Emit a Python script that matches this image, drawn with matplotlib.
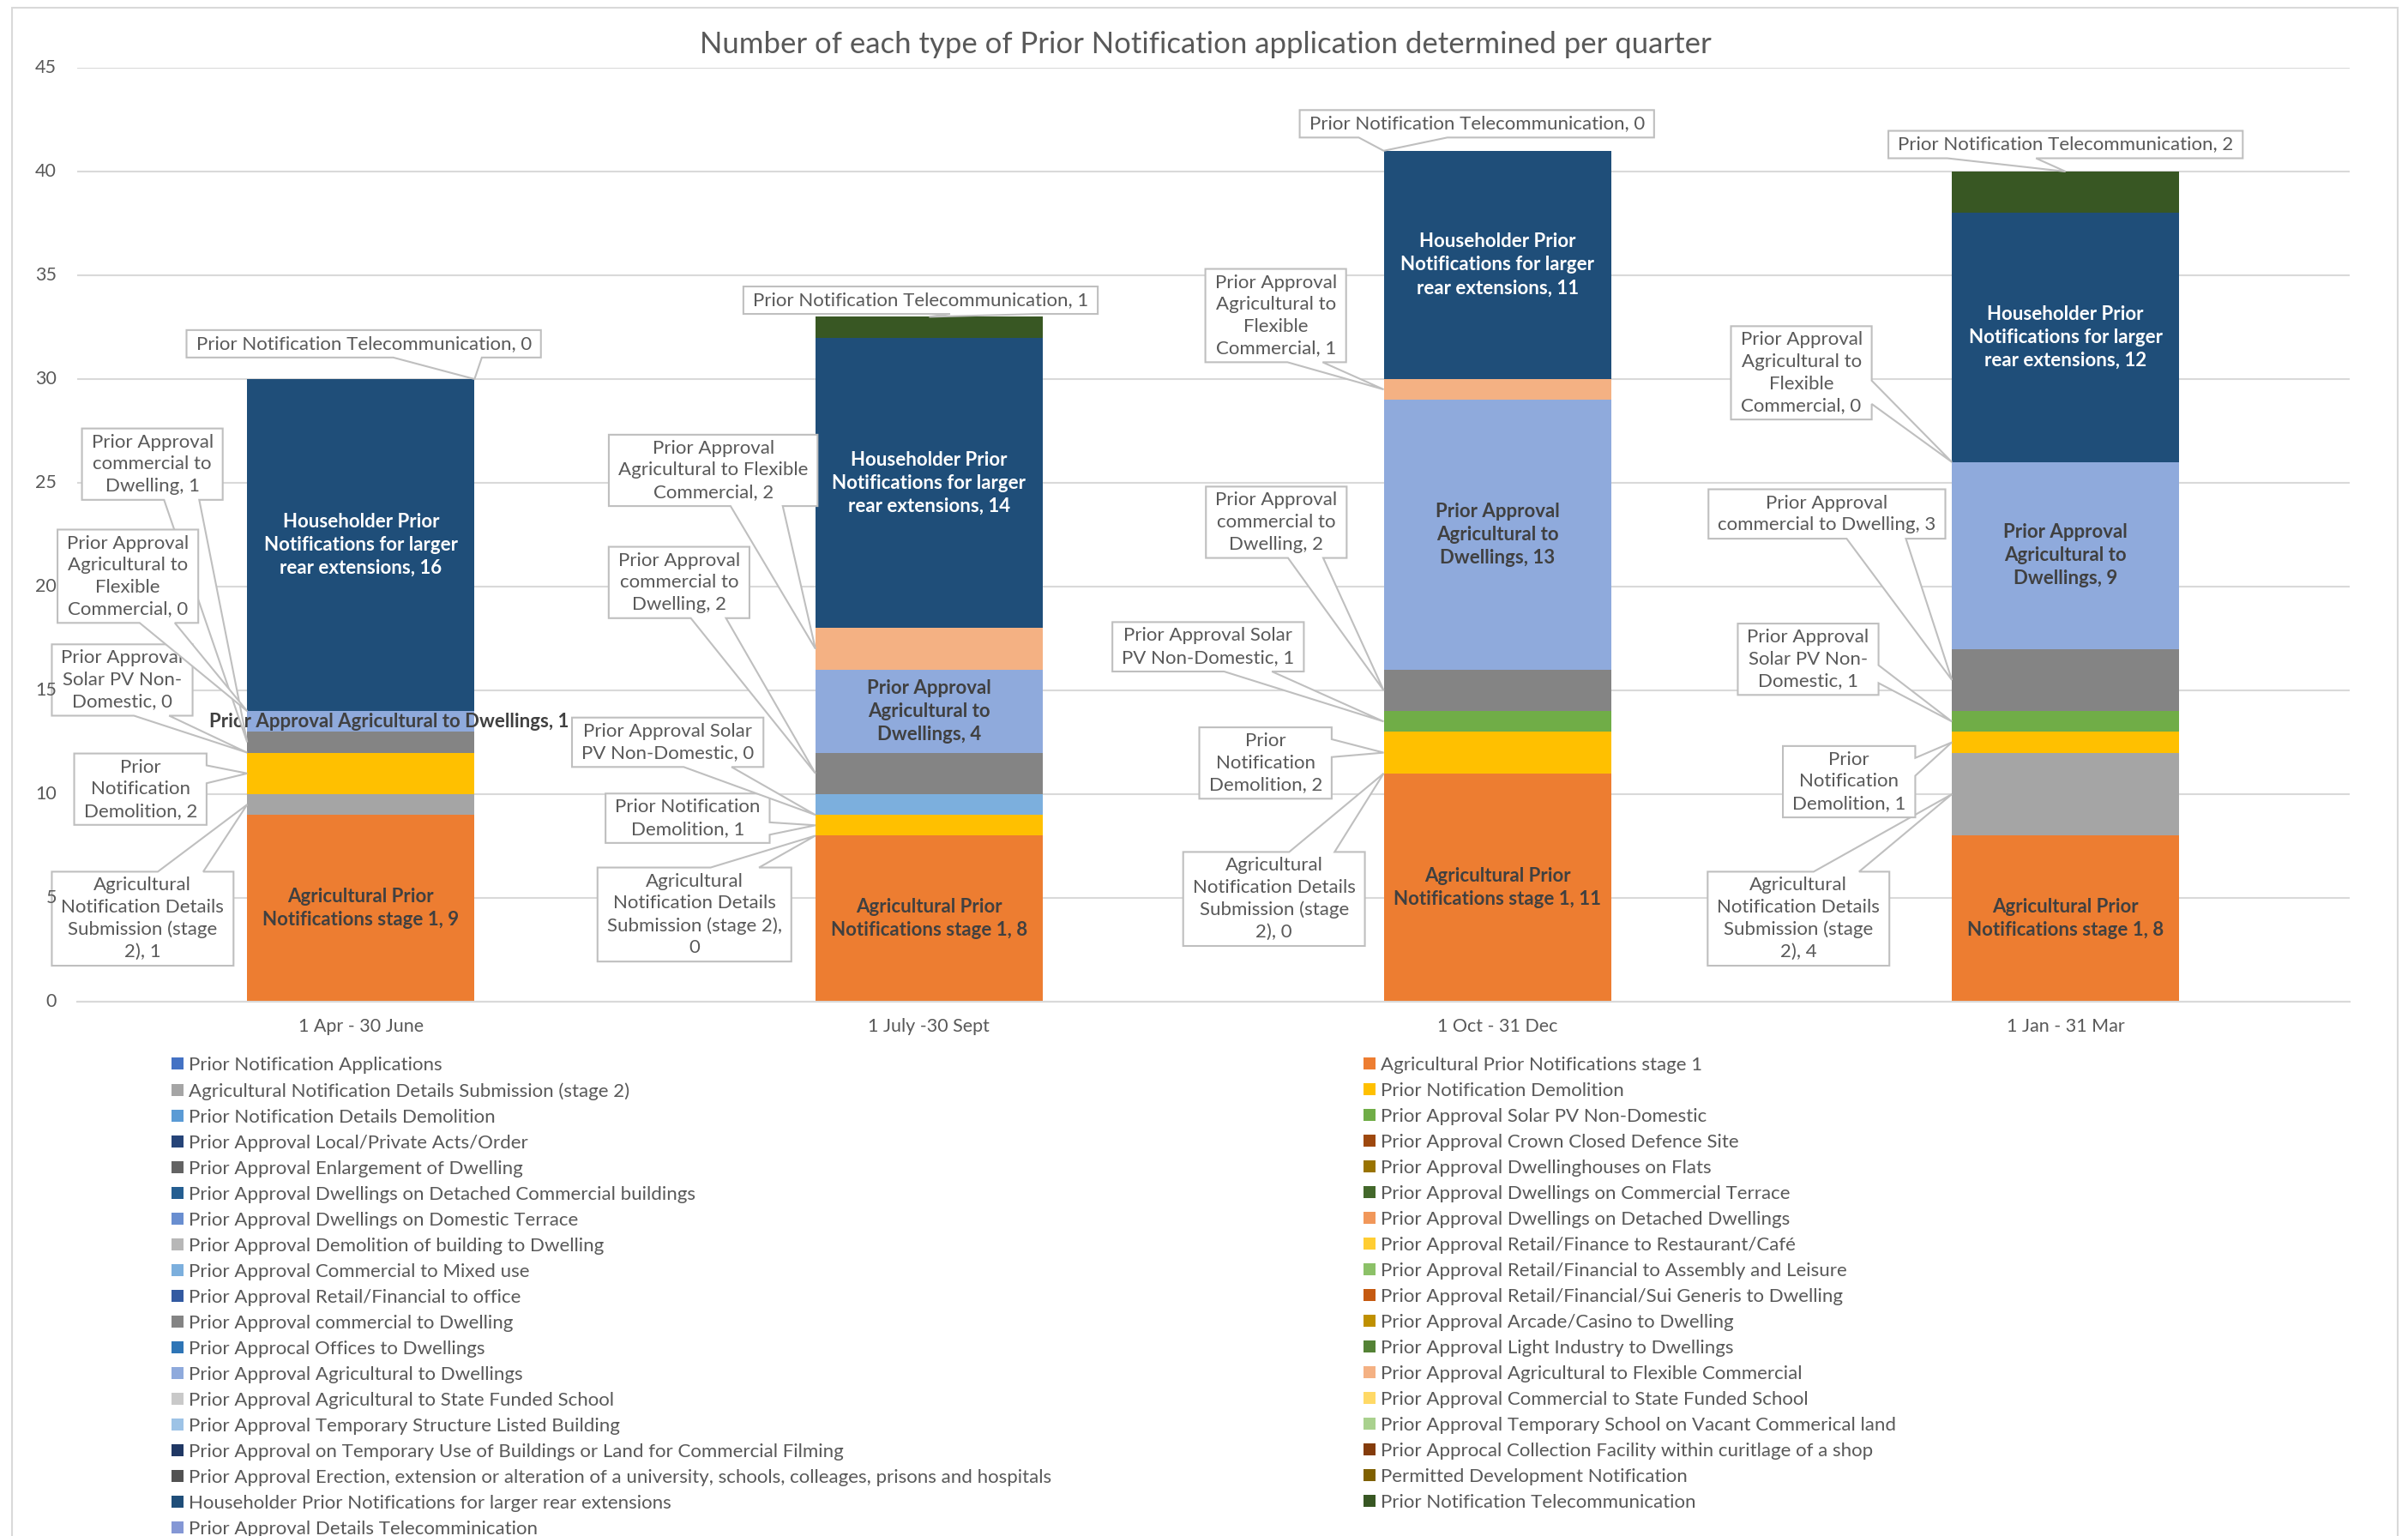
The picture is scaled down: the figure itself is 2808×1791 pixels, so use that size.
import matplotlib
matplotlib.use("Agg")
import matplotlib.pyplot as plt
from matplotlib.patches import Patch, Polygon, Rectangle

plt.rcParams['font.family'] = ['Lato', 'DejaVu Sans']

title = "Number of each type of Prior Notification application determined per quarter"
quarters = ["1 Apr - 30 June", "1 July -30 Sept", "1 Oct - 31 Dec", "1 Jan - 31 Mar"]

# series in the workbook order (stacking order, bottom to top)
series = [
    "Prior Notification Applications",
    "Agricultural Prior Notifications stage 1",
    "Agricultural Notification Details Submission (stage 2)",
    "Prior Notification Demolition",
    "Prior Notification Details Demolition",
    "Prior Approval Solar PV Non-Domestic",
    "Prior Approval Local/Private Acts/Order",
    "Prior Approval Crown Closed Defence Site",
    "Prior Approval Enlargement of Dwelling",
    "Prior Approval Dwellinghouses on Flats",
    "Prior Approval Dwellings on Detached Commercial buildings",
    "Prior Approval Dwellings on Commercial Terrace",
    "Prior Approval Dwellings on Domestic Terrace",
    "Prior Approval Dwellings on Detached Dwellings",
    "Prior Approval Demolition of building to Dwelling",
    "Prior Approval Retail/Finance to Restaurant/Café",
    "Prior Approval Commercial to Mixed use",
    "Prior Approval Retail/Financial to Assembly and Leisure",
    "Prior Approval Retail/Financial to office",
    "Prior Approval Retail/Financial/Sui Generis to Dwelling",
    "Prior Approval commercial to Dwelling",
    "Prior Approval Arcade/Casino to Dwelling",
    "Prior Approcal Offices to Dwellings",
    "Prior Approval Light Industry to Dwellings",
    "Prior Approval Agricultural to Dwellings",
    "Prior Approval Agricultural to Flexible Commercial",
    "Prior Approval Agricultural to State Funded School",
    "Prior Approval Commercial to State Funded School",
    "Prior Approval Temporary Structure Listed Building",
    "Prior Approval Temporary School on Vacant Commerical land",
    "Prior Approval on Temporary Use of Buildings or Land for Commercial Filming",
    "Prior Approcal Collection Facility within curitlage of a shop",
    "Prior Approval Erection, extension or alteration of a university, schools, colleages, prisons and hospitals",
    "Permitted Development Notification",
    "Householder Prior Notifications for larger rear extensions",
    "Prior Notification Telecommunication",
    "Prior Approval Details Telecomminication",
]

colors = [
    "#4472C4", "#ED7D31", "#A5A5A5", "#FFC000", "#5B9BD5", "#70AD47",
    "#264478", "#9E480E", "#636363", "#997300", "#255E91", "#43682B",
    "#698ED0", "#F1975A", "#B7B7B7", "#FFCD33", "#7CAFDD", "#8CC168",
    "#335AA1", "#C55A11", "#848484", "#BF9000", "#2E75B6", "#548235",
    "#8FAADC", "#F4B183", "#C9C9C9", "#FFD966", "#9DC3E6", "#A9D18E",
    "#203864", "#843C0C", "#525252", "#7F6000", "#1F4E79", "#385723",
    "#8497D5",
]

# counts per quarter; every other series is zero in all quarters
ag_stage1 = [9, 8, 11, 8]
ag_stage2 = [1, 0, 0, 4]
pn_demolition = [2, 1, 2, 1]
solar_pv = [0, 0, 1, 1]
commercial_mixed = [0, 1, 0, 0]
commercial_dwelling = [1, 2, 2, 3]
ag_dwellings = [1, 4, 13, 9]
ag_flexible = [0, 2, 1, 0]
householder = [16, 14, 11, 12]
telecom = [0, 1, 0, 2]

values = {name: [0, 0, 0, 0] for name in series}
values["Agricultural Prior Notifications stage 1"] = ag_stage1
values["Agricultural Notification Details Submission (stage 2)"] = ag_stage2
values["Prior Notification Demolition"] = pn_demolition
values["Prior Approval Solar PV Non-Domestic"] = solar_pv
values["Prior Approval Commercial to Mixed use"] = commercial_mixed
values["Prior Approval commercial to Dwelling"] = commercial_dwelling
values["Prior Approval Agricultural to Dwellings"] = ag_dwellings
values["Prior Approval Agricultural to Flexible Commercial"] = ag_flexible
values["Householder Prior Notifications for larger rear extensions"] = householder
values["Prior Notification Telecommunication"] = telecom

TEL = "Prior Notification Telecommunication"
COM = "Prior Approval commercial to Dwelling"
FLX = "Prior Approval Agricultural to Flexible Commercial"
SOL = "Prior Approval Solar PV Non-Domestic"
DEM = "Prior Notification Demolition"
AG2 = "Agricultural Notification Details Submission (stage 2)"
AG1 = "Agricultural Prior Notifications stage 1"
AGD = "Prior Approval Agricultural to Dwellings"
HH = "Householder Prior Notifications for larger rear extensions"

# callout labels: series, quarter, text, box centre (x offset from bar centre, y), where the tail points
callouts = [
    (TEL, 0, "Prior Notification Telecommunication, {v}", 0.005, 31.7, "topright"),
    (COM, 0, "Prior Approval\ncommercial to\nDwelling, {v}", -0.367, 25.9, "left"),
    (FLX, 0, "Prior Approval\nAgricultural to\nFlexible\nCommercial, {v}", -0.41, 20.5, "left"),
    (SOL, 0, "Prior Approval\nSolar PV Non-\nDomestic, {v}", -0.42, 15.5, "left"),
    (DEM, 0, "Prior\nNotification\nDemolition, {v}", -0.388, 10.24, "left"),
    (AG2, 0, "Agricultural\nNotification Details\nSubmission (stage\n2), {v}", -0.384, 4.0, "left"),
    (TEL, 1, "Prior Notification Telecommunication, {v}", -0.015, 33.8, "top"),
    (FLX, 1, "Prior Approval\nAgricultural to Flexible\nCommercial, {v}", -0.38, 25.6, "left"),
    (COM, 1, "Prior Approval\ncommercial to\nDwelling, {v}", -0.44, 20.2, "left"),
    (SOL, 1, "Prior Approval Solar\nPV Non-Domestic, {v}", -0.46, 12.5, "left"),
    (DEM, 1, "Prior Notification\nDemolition, {v}", -0.425, 8.84, "left"),
    (AG2, 1, "Agricultural\nNotification Details\nSubmission (stage 2),\n{v}", -0.413, 4.2, "left"),
    (TEL, 2, "Prior Notification Telecommunication, {v}", -0.036, 42.3, "topleft"),
    (FLX, 2, "Prior Approval\nAgricultural to\nFlexible\nCommercial, {v}", -0.39, 33.06, "left"),
    (COM, 2, "Prior Approval\ncommercial to\nDwelling, {v}", -0.389, 23.1, "left"),
    (SOL, 2, "Prior Approval Solar\nPV Non-Domestic, {v}", -0.509, 17.1, "left"),
    (DEM, 2, "Prior\nNotification\nDemolition, {v}", -0.408, 11.5, "left"),
    (AG2, 2, "Agricultural\nNotification Details\nSubmission (stage\n2), {v}", -0.393, 4.95, "left"),
    (TEL, 3, "Prior Notification Telecommunication, {v}", 0.0, 41.3, "top"),
    (FLX, 3, "Prior Approval\nAgricultural to\nFlexible\nCommercial, {v}", -0.465, 30.3, "left"),
    (COM, 3, "Prior Approval\ncommercial to Dwelling, {v}", -0.42, 23.5, "left"),
    (SOL, 3, "Prior Approval\nSolar PV Non-\nDomestic, {v}", -0.453, 16.5, "left"),
    (DEM, 3, "Prior\nNotification\nDemolition, {v}", -0.381, 10.6, "left"),
    (AG2, 3, "Agricultural\nNotification Details\nSubmission (stage\n2), {v}", -0.47, 4.0, "left"),
]

# labels drawn inside the segments
inside = [
    (AG1, "Agricultural Prior\nNotifications stage 1, {v}", "#404040", [0, 0, 0, 0]),
    (HH, "Householder Prior\nNotifications for larger\nrear extensions, {v}", "white", [0, 0, 0, 0]),
]
agd_text = ["Prior Approval Agricultural to Dwellings, {v}",
            "Prior Approval\nAgricultural to\nDwellings, {v}",
            "Prior Approval\nAgricultural to\nDwellings, {v}",
            "Prior Approval\nAgricultural to\nDwellings, {v}"]
agd_dx = [0.05, 0, 0, 0]

GREY = "#595959"
LABEL_FS = 16
LSP = 1.35
BAR_W = 0.4
yticks = list(range(0, 46, 5))

fig = plt.figure(figsize=(28.08, 17.91), dpi=100)
fig.patches.append(Rectangle((14 / 2808, -0.01), 2782 / 2808, 1 - 9 / 1791 + 0.01,
                             transform=fig.transFigure, fill=False,
                             edgecolor="#D9D9D9", linewidth=1.5))
ax = fig.add_axes([89.5 / 2808, 1 - 1168 / 1791, (2740 - 89.5) / 2808, (1168 - 79) / 1791])

x = list(range(len(quarters)))
bottoms = [0, 0, 0, 0]
seg = {}
for name, c in zip(series, colors):
    v = values[name]
    ax.bar(x, v, BAR_W, bottom=bottoms, color=c, linewidth=0, zorder=2)
    seg[name] = [(bottoms[i], bottoms[i] + v[i]) for i in x]
    bottoms = [b + vi for b, vi in zip(bottoms, v)]

ax.set_xlim(-0.5, 3.5)
ax.set_ylim(0, 45)
ax.set_yticks(yticks)
ax.set_yticklabels([])
ax.set_xticks(x)
ax.set_xticklabels(quarters)
ax.tick_params(axis="both", length=0, labelsize=15.5, labelcolor=GREY)
ax.tick_params(axis="x", pad=14)
ax.yaxis.grid(True, color="#D9D9D9", linewidth=1.5)
ax.set_axisbelow(True)
for s in ["left", "right", "top"]:
    ax.spines[s].set_visible(False)
ax.spines["bottom"].set_color("#D9D9D9")
ax.spines["bottom"].set_linewidth(1.5)

# value axis labels sit on top of the callout boxes, as in the spreadsheet
for v in yticks:
    ax.annotate(str(v), xy=(0, v), xycoords=ax.get_yaxis_transform(), xytext=(-17, 0),
                textcoords="offset points", ha="right", va="center", fontsize=15.5,
                color=GREY, zorder=10, annotation_clip=False)

fig.text(0.5007, 1 - 52 / 1791, title, ha="center", va="center", fontsize=25, color=GREY)

# labels inside the bars
for name, tmpl, col, dxs in inside:
    for i in x:
        lo, hi = seg[name][i]
        ax.text(i + dxs[i], (lo + hi) / 2, tmpl.format(v=values[name][i]), ha="center",
                va="center", fontsize=LABEL_FS, fontweight="bold", color=col, zorder=4,
                linespacing=LSP)
for i in x:
    lo, hi = seg[AGD][i]
    ax.text(i + agd_dx[i], (lo + hi) / 2, agd_text[i].format(v=ag_dwellings[i]), ha="center",
            va="center", fontsize=LABEL_FS, fontweight="bold", color="#404040", zorder=4,
            linespacing=LSP)

# callout texts first, boxes are built once their size is known
order = {name: k for k, name in enumerate(series)}
placed = []
for name, q, tmpl, dx, yc, tail in callouts:
    z = 5 + order[name] * 0.01
    t = ax.text(q + dx, yc, tmpl.format(v=values[name][q]), ha="center", va="center",
                fontsize=LABEL_FS, color=GREY, zorder=z + 0.005, linespacing=LSP,
                clip_on=False)
    lo, hi = seg[name][q]
    if tail == "left":
        tip = (q - BAR_W / 2, (lo + hi) / 2)
    elif tail == "top":
        tip = (q, hi)
    elif tail == "topright":
        tip = (q + BAR_W / 2, hi)
    else:
        tip = (q - BAR_W / 2, hi)
    placed.append((t, tip, z))


def callout_shape(x0, y0, x1, y1, tx, ty):
    w, h = x1 - x0, y1 - y0
    cx, cy = (x0 + x1) / 2, (y0 + y1) / 2
    if x0 <= tx <= x1 and y0 <= ty <= y1:
        return [(x0, y0), (x1, y0), (x1, y1), (x0, y1)]
    if abs(tx - cx) / w > abs(ty - cy) / h:
        if ty > cy:
            ya, yb = y1 - h * 5 / 12, y1 - h * 2 / 12
        else:
            ya, yb = y1 - h * 10 / 12, y1 - h * 7 / 12
        if tx > cx:
            return [(x0, y0), (x1, y0), (x1, ya), (tx, ty), (x1, yb), (x1, y1), (x0, y1)]
        return [(x0, y0), (x1, y0), (x1, y1), (x0, y1), (x0, yb), (tx, ty), (x0, ya)]
    if tx > cx:
        xa, xb = x0 + w * 7 / 12, x0 + w * 10 / 12
    else:
        xa, xb = x0 + w * 2 / 12, x0 + w * 5 / 12
    if ty < cy:
        return [(x0, y0), (xa, y0), (tx, ty), (xb, y0), (x1, y0), (x1, y1), (x0, y1)]
    return [(x0, y0), (x1, y0), (x1, y1), (xb, y1), (tx, ty), (xa, y1), (x0, y1)]


fig.canvas.draw()
renderer = fig.canvas.get_renderer()
to_fig = fig.transFigure.inverted()
for t, tip, z in placed:
    bb = t.get_window_extent(renderer)
    tx, ty = ax.transData.transform(tip)
    pts = callout_shape(bb.x0 - 11, bb.y0 - 6, bb.x1 + 11, bb.y1 + 6, tx, ty)
    ax.add_patch(Polygon(to_fig.transform(pts), closed=True, transform=fig.transFigure,
                         facecolor="white", edgecolor="#BFBFBF", linewidth=1.5,
                         zorder=z, clip_on=False))

# legend in two columns, filled row by row like the spreadsheet
handles = [Patch(facecolor=c, edgecolor="none", label=n) for n, c in zip(series, colors)]
leg_kw = dict(loc="upper left", frameon=False, fontsize=16, labelcolor=GREY,
              handlelength=0.62, handleheight=0.62, handletextpad=0.3, labelspacing=0.45,
              borderpad=0, borderaxespad=0)
fig.legend(handles=handles[0::2], bbox_to_anchor=(200 / 2808, 1 - 1232 / 1791), **leg_kw)
fig.legend(handles=handles[1::2], bbox_to_anchor=(1590 / 2808, 1 - 1232 / 1791), **leg_kw)

fig.savefig("out.png", dpi=100)
